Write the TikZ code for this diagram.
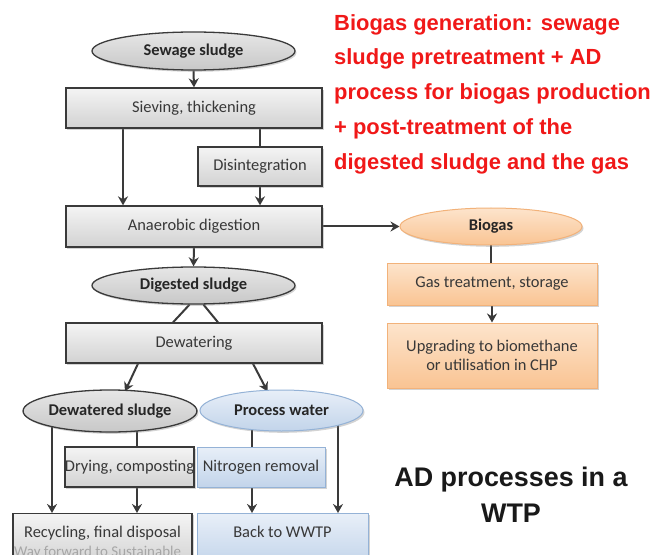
\documentclass[tikz,border=0pt]{standalone}
\usepackage{fontspec}
\setmainfont{Carlito}
\newfontfamily\arialf{Liberation Sans}
\usetikzlibrary{arrows.meta,shapes.geometric,shadows}
\pgfdeclarelayer{bg}
\pgfsetlayers{bg,main}
\definecolor{lineC}{HTML}{3A3A3A}
\definecolor{grayT}{HTML}{F4F4F4}
\definecolor{grayB}{HTML}{D2D2D2}
\definecolor{ellT}{HTML}{E6E6E6}
\definecolor{ellB}{HTML}{C8C8C8}
\definecolor{orT}{HTML}{FDE4CC}
\definecolor{orB}{HTML}{F9C493}
\definecolor{orD}{HTML}{F2B27A}
\definecolor{blT}{HTML}{E8EFF8}
\definecolor{blB}{HTML}{C2D4EA}
\definecolor{blD}{HTML}{94B2D6}
\definecolor{redT}{HTML}{F01818}
\tikzset{
  base/.style={inner sep=0pt, align=center, font=\fontsize{16.5}{19}\selectfont, text=black!78,
    drop shadow={shadow xshift=1.5bp, shadow yshift=-1.8bp, opacity=.35}},
  graybox/.style={base, rectangle, draw=lineC, line width=1.3bp, top color=grayT, bottom color=grayB},
  grayell/.style={base, ellipse, draw=lineC, line width=1.3bp, top color=ellT, bottom color=ellB, font=\fontsize{16.5}{19}\selectfont\bfseries, text=black!85},
  orbox/.style={base, rectangle, draw=orD, line width=1bp, top color=orT, bottom color=orB},
  orell/.style={base, ellipse, draw=orD, line width=1bp, top color=orT, bottom color=orB, font=\fontsize{16.5}{19}\selectfont\bfseries, text=black!85},
  blbox/.style={base, rectangle, draw=blD, line width=1bp, top color=blT, bottom color=blB},
  blell/.style={base, ellipse, draw=blD, line width=1bp, top color=blT, bottom color=blB, font=\fontsize{16.5}{19}\selectfont\bfseries, text=black!85},
  arr/.style={draw=lineC, line width=2bp, -{Stealth[length=9bp,width=10bp]}},
  ln/.style={draw=lineC, line width=2bp},
}
\begin{document}
\begin{tikzpicture}[x=1bp,y=-1bp]
\useasboundingbox (0,0) rectangle (659,555);
\clip (0,0) rectangle (659,555);

% left column
\node[grayell, minimum width=203bp, minimum height=38bp] (sew) at (193.5,51) {Sewage sludge};
\node[graybox, minimum width=256bp, minimum height=40bp] (siev) at (194,108) {Sieving, thickening};
\node[graybox, minimum width=124bp, minimum height=39bp] (dis) at (260,166.5) {Disintegration};
\node[graybox, minimum width=256bp, minimum height=41bp] (ana) at (194,226.5) {Anaerobic digestion};
\node[grayell, minimum width=203bp, minimum height=37bp] (dig) at (193.5,285.5) {Digested sludge};
\node[graybox, minimum width=256bp, minimum height=40bp] (dew) at (194,343) {Dewatering};
\node[grayell, minimum width=164bp, minimum height=42bp] (dws) at (110,411) {Dewatered sludge};
\node[blell, minimum width=163bp, minimum height=41bp] (pw) at (281.5,410.5) {Process water};
\node[graybox, minimum width=125bp, minimum height=40bp] (dry) at (129.5,467) {Drying, composting};
\node[blbox, minimum width=128bp, minimum height=40bp] (nit) at (261,467) {Nitrogen removal};
\node[graybox, minimum width=179bp, minimum height=52bp, text height=10bp, text depth=14bp, anchor=north] (rec) at (102.5,513) {Recycling, final disposal};
\node[blbox, minimum width=171bp, minimum height=52bp, text height=10bp, text depth=14bp, anchor=north] (back) at (282.5,513) {Back to WWTP};

% right column
\node[orell, minimum width=182bp, minimum height=37bp] (bio) at (491,226.5) {Biogas};
\node[orbox, minimum width=210bp, minimum height=42bp] (gas) at (492,284) {Gas treatment, storage};
\node[orbox, minimum width=210bp, minimum height=65bp] (upg) at (492,355.5) {Upgrading to biomethane\\or utilisation in CHP};

% texts
\node[anchor=north west, align=left, text=redT, inner sep=0pt,
  font=\arialf\bfseries\fontsize{22}{35}\selectfont] (title) at (334,14)
  {Biogas generation: sewage\\sludge pretreatment + AD\\process for biogas production\\+ post-treatment of the\\digested sludge and the gas};
\node[align=center, text=black!90, inner sep=0pt,
  font=\arialf\bfseries\fontsize{27}{36}\selectfont] (adp) at (511,495)
  {AD processes in a\\WTP};
\node[anchor=west, text=gray!70, inner sep=0pt, font=\fontsize{15}{17}\selectfont] (wm) at (14,553)
  {Way forward to Sustainable};

% connectors
\begin{pgfonlayer}{bg}
\draw[arr] (sew.south) -- (siev.north);
\draw[arr] ([xshift=-71bp]siev.center) -- ([xshift=-71bp]ana.north);
\draw[ln] (dis.center |- siev.center) -- (dis.north);
\draw[arr] (dis.south) -- (dis.south |- ana.north);
\draw[arr] (ana.south) -- (dig.north);
\draw[ln] ([xshift=-4bp]dig.south) -- ([xshift=-21bp]dew.north);
\draw[ln] ([xshift=10bp]dig.south) -- ([xshift=24bp]dew.north);
\draw[arr] ([xshift=-56bp]dew.south) -- ([xshift=15bp,yshift=-2bp]dws.north);
\draw[arr] ([xshift=59bp]dew.south) -- ([xshift=-14bp,yshift=-2bp]pw.north);
\draw[arr] ([xshift=-58bp]dws.center) -- ([xshift=-58bp]dws.center |- rec.north);
\draw[ln] ([xshift=27bp]dws.center) -- ([xshift=27bp]dws.center |- dry.north);
\draw[arr] ([xshift=7.5bp]dry.south) -- ([xshift=7.5bp]dry.south |- rec.north);
\draw[ln] ([xshift=-29.5bp]pw.center) -- ([xshift=-29.5bp]pw.center |- nit.north);
\draw[arr] ([xshift=-9bp]nit.south) -- ([xshift=-9bp]nit.south |- back.north);
\draw[arr] ([xshift=56.5bp]pw.center) -- ([xshift=56.5bp]pw.center |- back.north);
\draw[arr] (ana.east) -- (bio.west);
\draw[ln] (bio.center) -- (bio.center |- gas.north);
\draw[arr] (gas.south) -- (gas.south |- upg.north);
\end{pgfonlayer}
\end{tikzpicture}
\end{document}
